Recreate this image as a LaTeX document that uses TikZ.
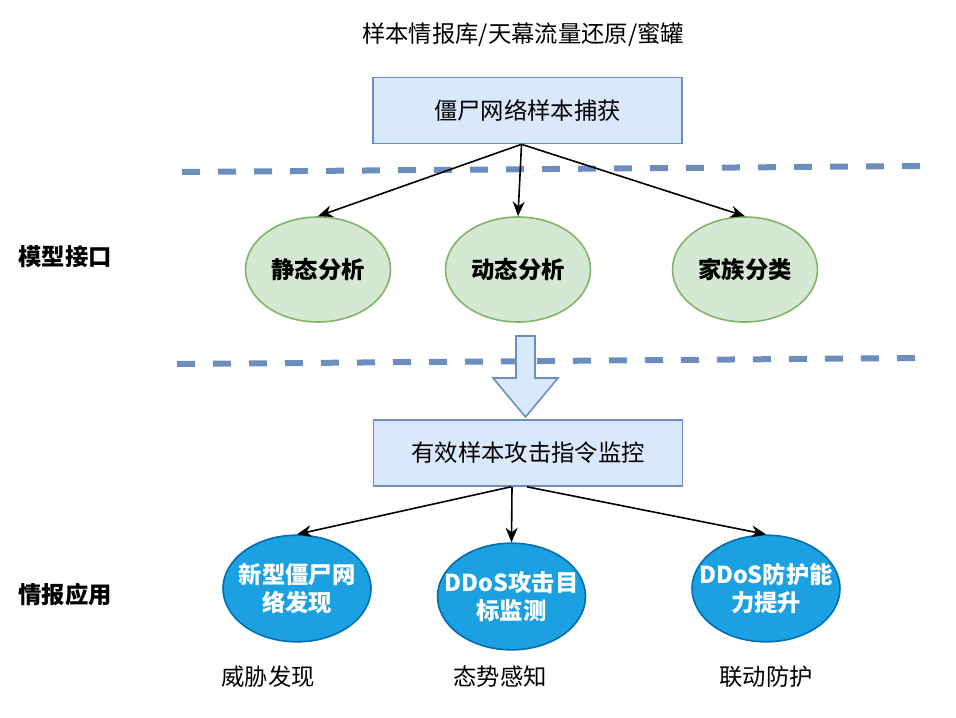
\documentclass[tikz,border=0pt]{standalone}
\usepackage{fontspec}
\setmainfont{Noto Sans CJK SC}
\usetikzlibrary{shapes.geometric,arrows.meta,calc,positioning}
\definecolor{BoxFill}{HTML}{DAE8FC}
\definecolor{BoxLine}{HTML}{6C8EBF}
\definecolor{OvalFill}{HTML}{D5E8D4}
\definecolor{OvalLine}{HTML}{82B366}
\definecolor{AppFill}{HTML}{1BA1E2}
\definecolor{AppLine}{HTML}{006EAF}
\tikzset{
	txt/.style={font=\fontsize{17.5}{21}\selectfont},
	btxt/.style={font=\fontsize{17.5}{21}\selectfont\bfseries},
	stage/.style={rectangle, draw=BoxLine, fill=BoxFill, line width=1.2pt, minimum width=231.75pt, minimum height=49.5pt, txt},
	module/.style={ellipse, draw=OvalLine, fill=OvalFill, line width=1.2pt, minimum width=108.75pt, minimum height=78.75pt, inner sep=0pt, btxt},
	usage/.style={ellipse, draw=AppLine, fill=AppFill, line width=1.2pt, minimum width=111pt, minimum height=80pt, inner xsep=-20pt, inner ysep=0pt, align=center, text=white, btxt},
	link/.style={line width=1.2pt, -{Stealth[length=11pt,width=9pt,inset=3.5pt]}},
	sepline/.style={draw=BoxLine, line width=4.5pt, dash pattern=on 13.5pt off 13.5pt},
}

\begin{document}
\begin{tikzpicture}[x=0.75pt,y=-0.75pt,
		bigarrow/.style={draw=BoxLine, fill=BoxFill, line width=1.2pt, line join=miter}]
	\useasboundingbox (0,0) rectangle (956,717);
	% layer lines
	\coordinate (l1a) at (182,172);
	\coordinate (l1b) at (920,166);
	\coordinate (l2a) at (177,364);
	\coordinate (l2b) at (915,358);
	\draw [sepline] (l1a) -- (l1b);
	\draw [sepline] (l2a) -- (l2b);

	\node (src) [txt] at (523,35) {样本情报库/天幕流量还原/蜜罐};
	\node (cap) [stage] at (527.5,110.5) {僵尸网络样本捕获};

	\node (sa) [module] at (318,269.5) {静态分析};
	\node (da) [module] at (518,269.5) {动态分析};
	\node (fc) [module] at (745,269.5) {家族分类};
	\node (if) [btxt] at (65,257) {模型接口};

	\draw [link] ($(cap.south)+(-6,0)$) -- (sa.north);
	\draw [link] ($(cap.south)+(-6,0)$) -- (da.north);
	\draw [link] ($(cap.south)+(-6,0)$) -- (fc.north);

	% big arrow down
	\coordinate (flow) at (525.5,336);
	\draw [bigarrow] ($(flow)+(-9.5,0)$) -- ($(flow)+(9.5,0)$) -- ($(flow)+(9.5,42)$) -- ($(flow)+(32.5,42)$)
		-- ($(flow)+(0,81)$) -- ($(flow)+(-32.5,42)$) -- ($(flow)+(-9.5,42)$) -- cycle;

	\node (mon) [stage] at (528,453) {有效样本攻击指令监控};

	\node (c1) [usage] at (297,588.5) {新型僵尸网\\络发现};
	\node (c2) [usage] at (511.5,596.5) {DDoS攻击目\\标监测};
	\node (c3) [usage] at (766,588.5) {DDoS防护能\\力提升};
	\node (ap) [btxt] at (65,595) {情报应用};

	\draw [link] ($(mon.south)+(-17,0)$) -- (c1.north);
	\draw [link] ($(mon.south)+(-16,0)$) -- (c2.north);
	\draw [link] ($(mon.south)+(-1,0)$) -- (c3.north);

	\node (t1) [txt] at (268,677) {威胁发现};
	\node (t2) [txt] at (500,677) {态势感知};
	\node (t3) [txt] at (766,677) {联动防护};
\end{tikzpicture}
\end{document}
